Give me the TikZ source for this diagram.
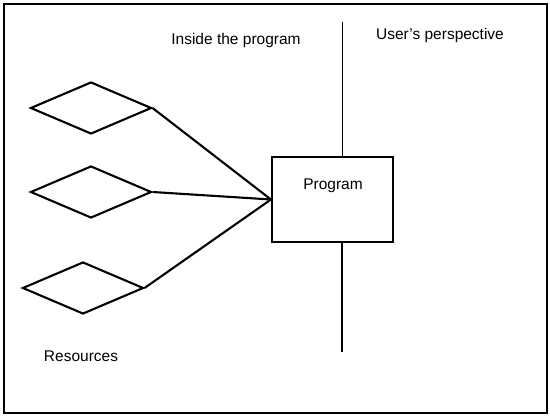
\documentclass[tikz,border=0pt]{standalone}
\usepackage{fontspec}
\setmainfont{Liberation Sans}
\usetikzlibrary{shapes.geometric}
\begin{document}
\begin{tikzpicture}[x=1pt,y=-1pt,
  res/.style={draw,diamond,line width=2.1pt,minimum width=121pt,minimum height=52pt,inner sep=0pt,aspect=2.33},
  progbox/.style={draw,rectangle,line width=2.1pt,minimum width=121pt,minimum height=85pt,inner sep=0pt},
  link/.style={line width=2.1pt},
  lbl/.style={font=\fontsize{15.5}{18}\selectfont,inner sep=0pt}
]
\useasboundingbox (0,0) rectangle (550,417);
\draw[line width=2.2pt] (4,4) rectangle (547,413);
\node[res] (d1) at (91,108) {};
\node[res] (d2) at (91,192) {};
\node[res] (d3) at (83,288) {};
\node[progbox] (prog) at (332.5,199.5) {};
\node[lbl] (plabel) at (333,186) {Program};
\node[lbl] (inside) at (236,40) {Inside the program};
\node[lbl] (user) at (440,35) {User's perspective};
\node[lbl] (reso) at (81,356) {Resources};
\coordinate (vtop) at (342,22);
\coordinate (vbot) at (342,352);
\draw[link] (d1.east) -- (prog.west);
\draw[link] (d2.east) -- (prog.west);
\draw[link] (d3.east) -- (prog.west);
\draw[line width=0.9pt] (vtop) -- (vtop |- prog.north);
\draw[line width=1.6pt] (vbot |- prog.south) -- (vbot);
\end{tikzpicture}
\end{document}
